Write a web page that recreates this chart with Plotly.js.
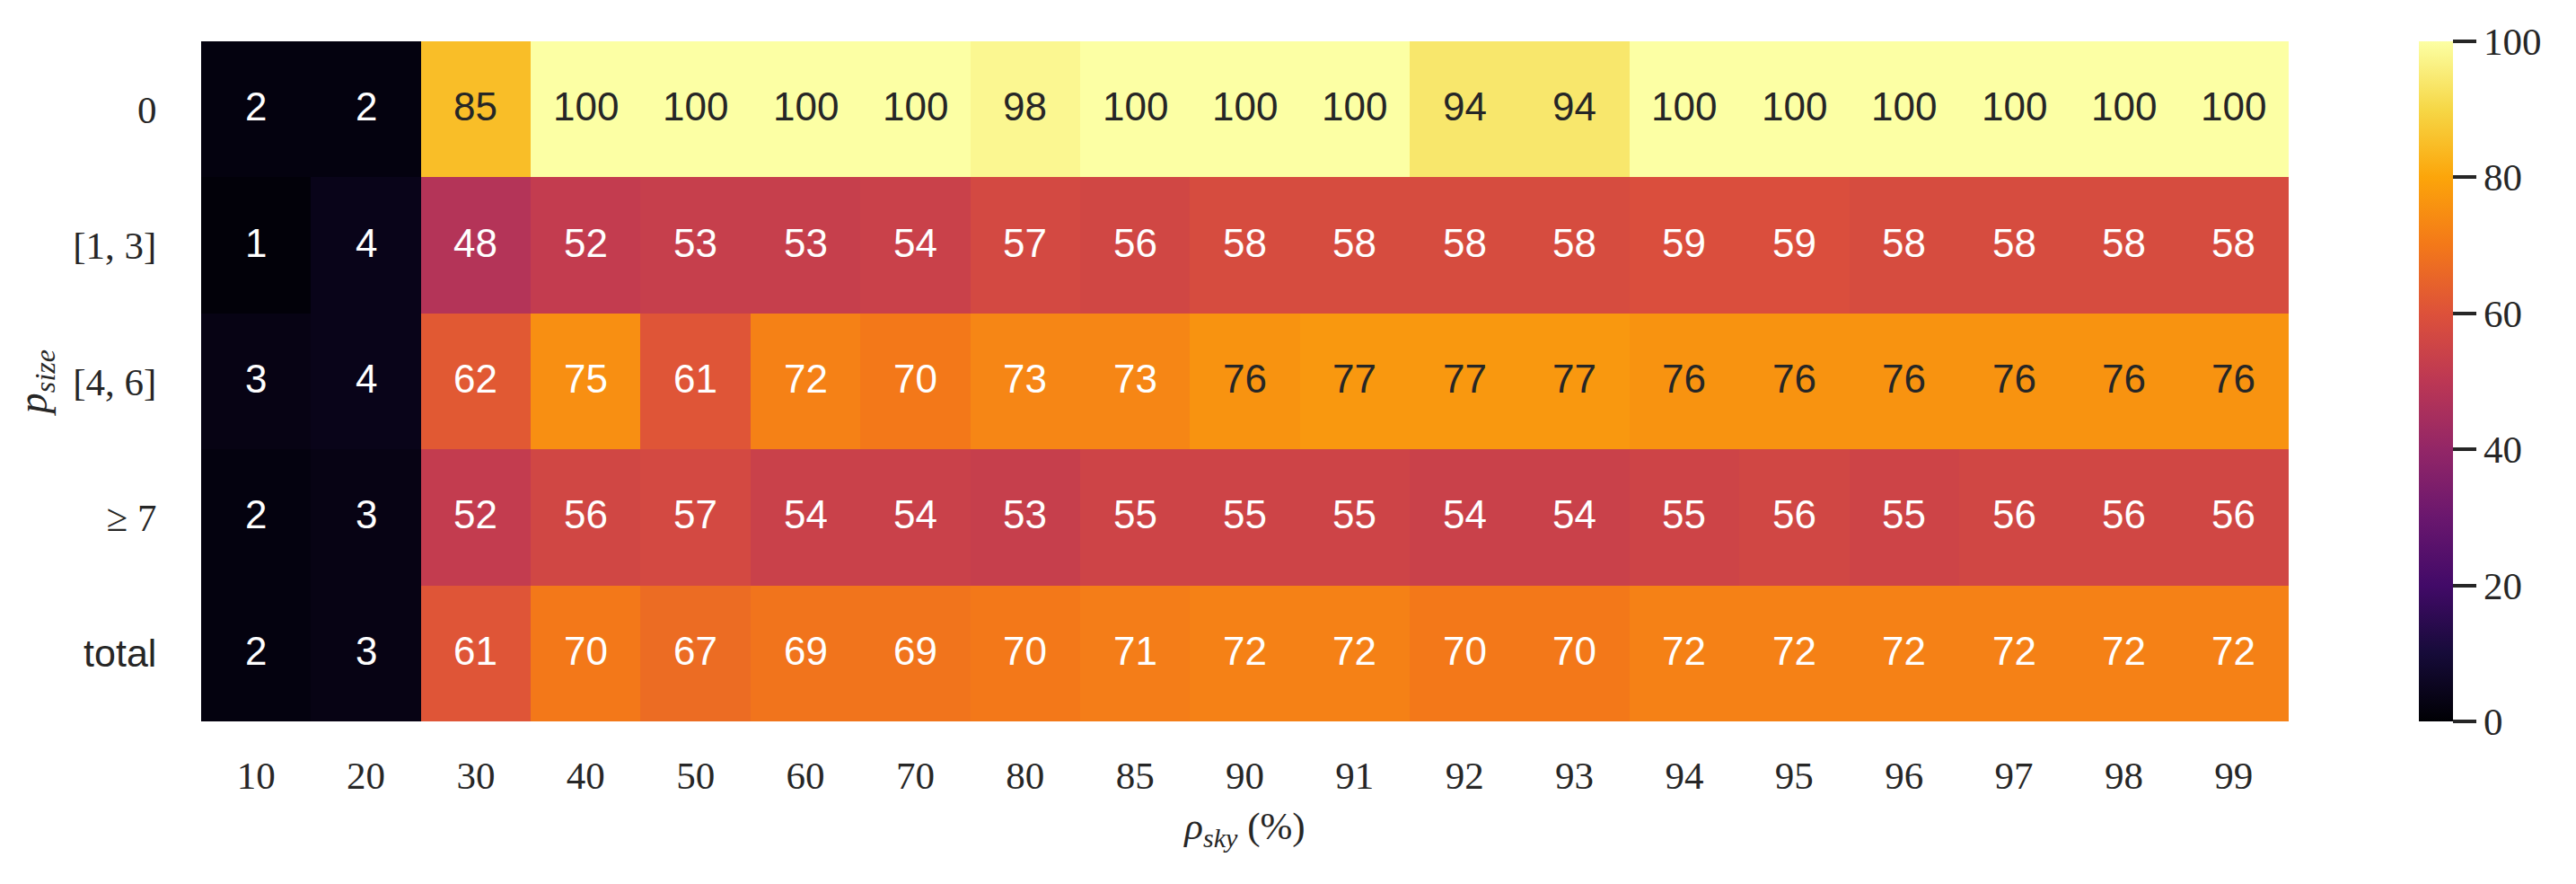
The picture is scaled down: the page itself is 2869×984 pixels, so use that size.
<!DOCTYPE html>
<html>
<head>
<meta charset="utf-8">
<script src="https://cdn.plot.ly/plotly-3.0.1.min.js"></script>
<style>html,body{margin:0;padding:0;background:#fff;}</style>
</head>
<body>
<div id="chart" style="width:2869px;height:984px;"></div>
<script>
// ---- data ----
const skyPercent = ["10","20","30","40","50","60","70","80","85","90","91","92","93","94","95","96","97","98","99"];
const sizeKeys = ["0","[1,3]","[4,6]",">=7","total"];
const sizeLabels = ["0","[1, 3]","[4, 6]","≥ 7","<span style=\"font-family:'Liberation Sans'\">total</span>"];
const row0     = [2,2,85,100,100,100,100,98,100,100,100,94,94,100,100,100,100,100,100];
const row1to3  = [1,4,48,52,53,53,54,57,56,58,58,58,58,59,59,58,58,58,58];
const row4to6  = [3,4,62,75,61,72,70,73,73,76,77,77,77,76,76,76,76,76,76];
const row7plus = [2,3,52,56,57,54,54,53,55,55,55,54,54,55,56,55,56,56,56];
const rowTotal = [2,3,61,70,67,69,69,70,71,72,72,70,70,72,72,72,72,72,72];
const colorbarTicks = [0,20,40,60,80,100];

const z = [row0, row1to3, row4to6, row7plus, rowTotal];

// inferno colorscale
const infernoHex = ["#000004","#160b39","#420a68","#6a176e","#932667","#bc3754","#dd513a","#f37819","#fca50a","#f6d746","#fcffa4"];
const inferno = infernoHex.map((c,i)=>[i/(infernoHex.length-1), c]);

function hexToRgb(h){return [parseInt(h.slice(1,3),16),parseInt(h.slice(3,5),16),parseInt(h.slice(5,7),16)];}
function colorAt(t){
  t=Math.max(0,Math.min(1,t));
  const n=infernoHex.length-1; const k=Math.min(n-1,Math.floor(t*n)); const f=t*n-k;
  const a=hexToRgb(infernoHex[k]), b=hexToRgb(infernoHex[k+1]);
  return a.map((v,i)=>v+(b[i]-v)*f);
}
function lum(rgb){
  const c=rgb.map(v=>{v/=255;return v<=0.03928?v/12.92:Math.pow((v+0.055)/1.055,2.4);});
  return 0.2126*c[0]+0.7152*c[1]+0.0722*c[2];
}

const annotations=[];
z.forEach((row,i)=>{
  row.forEach((v,j)=>{
    const L=lum(colorAt(v/100));
    annotations.push({
      x: j, y: i, xref:'x', yref:'y',   // category indices on the axes
      text: String(v), showarrow:false, yshift:3,
      font:{family:"'Liberation Sans', Arial, sans-serif", size:44, color: L>0.408 ? '#262626' : '#ffffff'}
    });
  });
});

const trace = {
  type:'heatmap',
  x: skyPercent, y: sizeKeys, z: z,
  zmin:0, zmax:100,
  colorscale: inferno,
  hoverinfo:'skip',
  colorbar:{
    x:1.0624, xanchor:'left', xref:'paper', xpad:0,
    y:0.5, yanchor:'middle', len:1, lenmode:'fraction', ypad:0,
    thickness:38, thicknessmode:'pixels',
    outlinewidth:0,
    tickvals: colorbarTicks, ticktext: colorbarTicks.map(String),
    ticks:'outside', ticklen:26, tickwidth:4, tickcolor:'#262626',
    tickfont:{family:"'Liberation Serif', serif", size:43, color:'#262626'}
  }
};

const layout = {
  width:2869, height:984,
  margin:{l:224, r:320, t:46, b:181, pad:0},
  paper_bgcolor:'#ffffff', plot_bgcolor:'#ffffff',
  xaxis:{
    type:'category', showgrid:false, zeroline:false, showline:false,
    ticks:'outside', ticklen:22, tickcolor:'rgba(0,0,0,0)',
    tickfont:{family:"'Liberation Serif', serif", size:43, color:'#262626'},
    title:{text:"<i>ρ</i><sub><i>sky</i></sub> (%)", standoff:18,
      font:{family:"'Liberation Serif', serif", size:43, color:'#262626'}}
  },
  yaxis:{
    type:'category', autorange:'reversed', showgrid:false, zeroline:false, showline:false,
    tickvals: sizeKeys, ticktext: sizeLabels,
    ticks:'outside', ticklen:40, tickcolor:'rgba(0,0,0,0)',
    tickfont:{family:"'Liberation Serif', serif", size:43, color:'#262626'},
    title:{text:"<i>p</i><sub><i>size</i></sub>", standoff:14,
      font:{family:"'Liberation Serif', serif", size:46, color:'#262626'}}
  },
  annotations: annotations,
  showlegend:false
};

Plotly.newPlot('chart',[trace],layout,{displayModeBar:false, staticPlot:true});
</script>
</body>
</html>
